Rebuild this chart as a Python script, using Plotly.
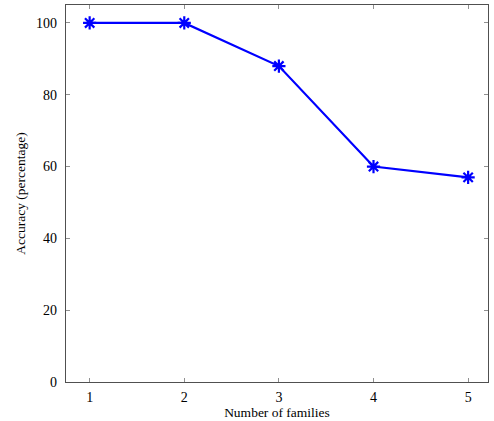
import plotly.graph_objects as go

# Classification accuracy versus the number of families
families = [1, 2, 3, 4, 5]
accuracy = [100, 100, 88, 60, 57]

x_ticks = [1, 2, 3, 4, 5]
y_ticks = [0, 20, 40, 60, 80, 100]

font_family = "Liberation Serif"

fig = go.Figure()
fig.add_trace(go.Scatter(
    x=families,
    y=accuracy,
    mode="lines+markers",
    line=dict(color="#0000ff", width=2.2),
    marker=dict(symbol="asterisk-open", size=11,
                line=dict(color="#0000ff", width=2.2)),
    showlegend=False,
))

axis_common = dict(
    showgrid=False,
    zeroline=False,
    showline=True,
    linecolor="#505050",
    linewidth=1.2,
    mirror="ticks",
    ticks="inside",
    ticklen=4,
    tickwidth=1,
    tickcolor="#909090",
    tickfont=dict(family=font_family, size=14, color="black"),
)

fig.update_xaxes(
    range=[0.75, 5.21],
    tickvals=x_ticks,
    ticklabelstandoff=2,
    title=dict(text="Number of families",
               font=dict(family=font_family, size=13.5, color="black"),
               standoff=2),
    **axis_common,
)
fig.update_yaxes(
    range=[0, 105],
    tickvals=y_ticks,
    ticklabelstandoff=5,
    title=dict(text="Accuracy (percentage)",
               font=dict(family=font_family, size=13.5, color="black"),
               standoff=7),
    **axis_common,
)

fig.update_layout(
    width=494,
    height=421,
    margin=dict(l=66, r=6, t=5, b=39),
    paper_bgcolor="white",
    plot_bgcolor="white",
    font=dict(family=font_family),
)

fig.write_html("out.html")
